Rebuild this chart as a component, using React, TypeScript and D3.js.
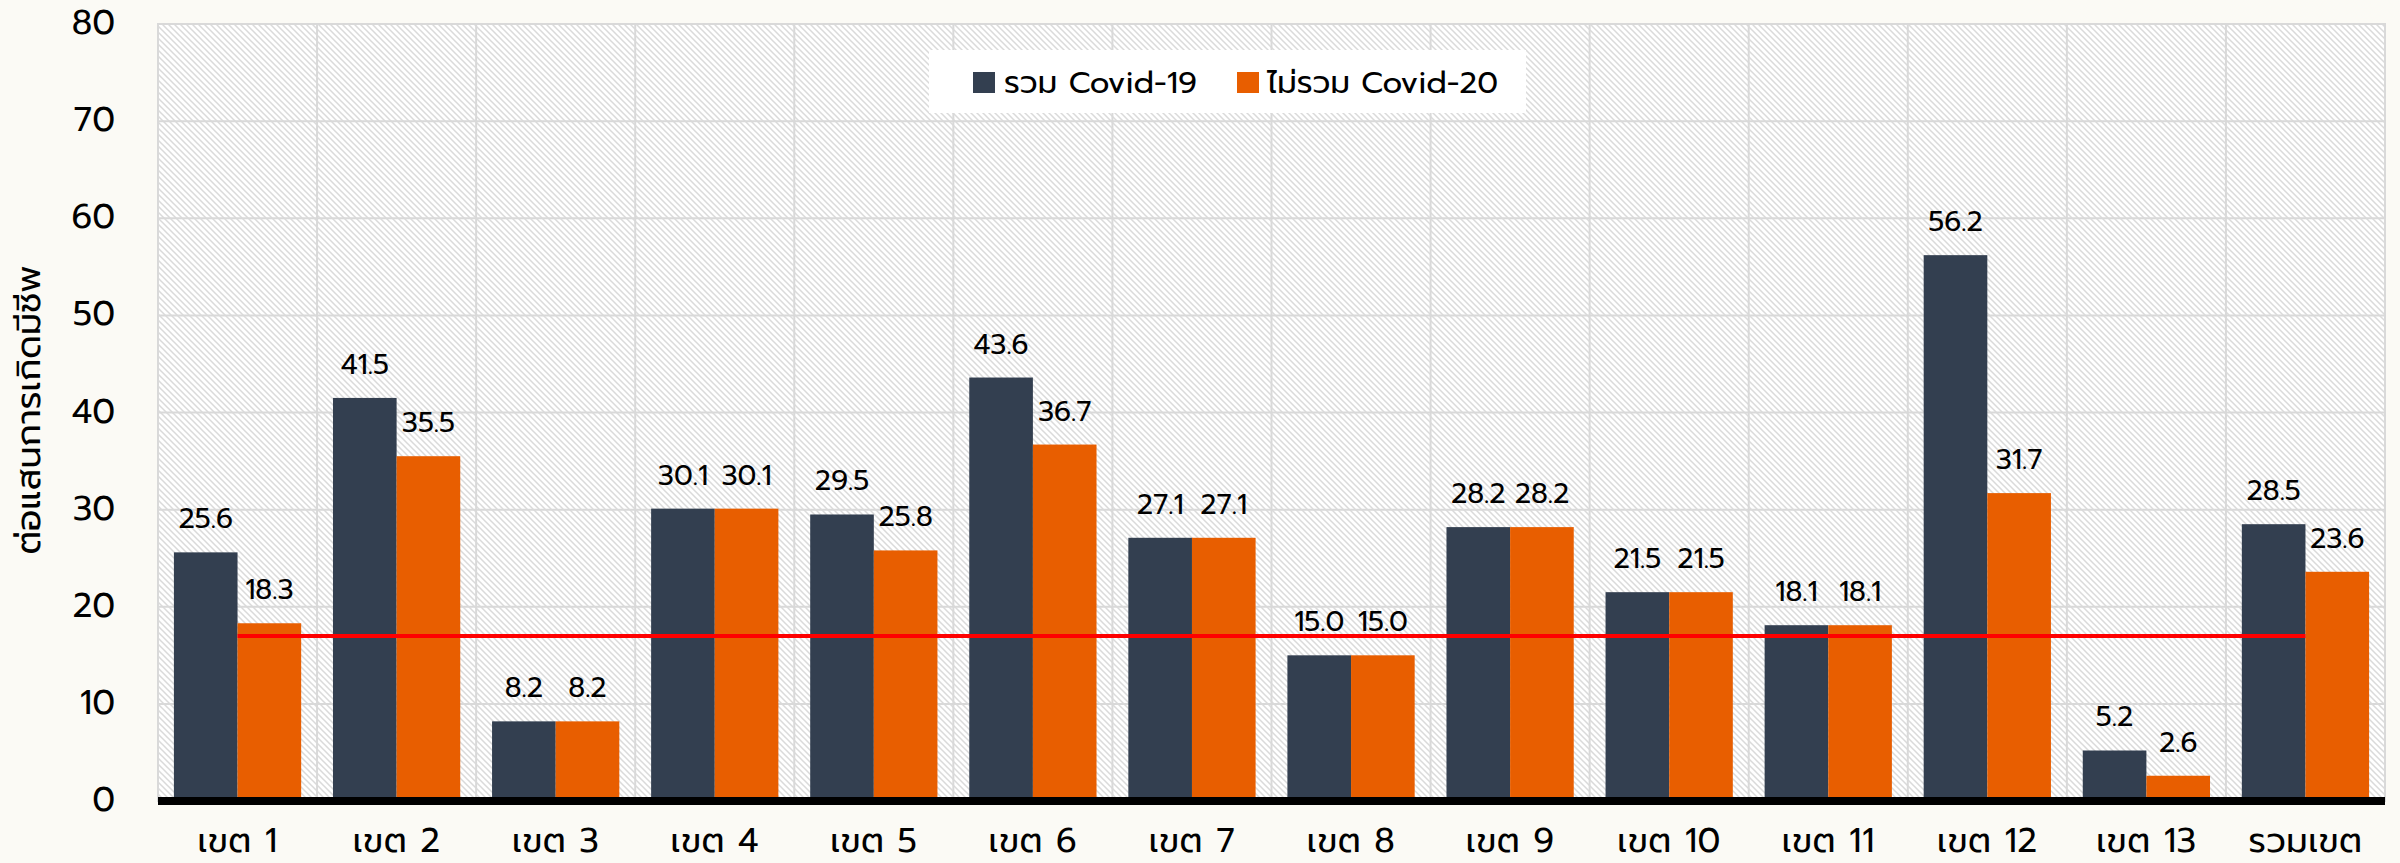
import React from "react";
import * as d3 from "d3";

const categories = ["เขต 1", "เขต 2", "เขต 3", "เขต 4", "เขต 5", "เขต 6", "เขต 7", "เขต 8", "เขต 9", "เขต 10", "เขต 11", "เขต 12", "เขต 13", "รวมเขต"];
const withCovid = [25.6, 41.5, 8.2, 30.1, 29.5, 43.6, 27.1, 15.0, 28.2, 21.5, 18.1, 56.2, 5.2, 28.5];
const withoutCovid = [18.3, 35.5, 8.2, 30.1, 25.8, 36.7, 27.1, 15.0, 28.2, 21.5, 18.1, 31.7, 2.6, 23.6];
const seriesNames = ["รวม Covid-19", "ไม่รวม Covid-20"];
const yTicks = [0, 10, 20, 30, 40, 50, 60, 70, 80];
const targetValue = 17;
const yTitle = "ต่อแสนการเกิดมีชีพ";

const W = 2400, H = 863;
const left = 158, right = 2385, top = 24, bottom = 801;
const DARK = "#333F50", ORANGE = "#E85E00", GRID = "#D9D9D9";
const FONT = "Prompt, Kanit, 'Noto Sans Thai', Lato, 'Noto Sans', sans-serif";

export default function App() {
  const x = d3.scaleBand<string>().domain(categories).range([left, right]).paddingInner(0).paddingOuter(0);
  const bw = x.bandwidth();
  const inner = d3.scaleBand<number>().domain([0, 1]).range([bw * 0.1, bw * 0.9]);
  const y = d3.scaleLinear().domain([0, 80]).range([bottom, top]);
  const series = [withCovid, withoutCovid];
  const colors = [DARK, ORANGE];
  const fmt = d3.format(".1f");
  const firstC = x(categories[0])! + bw / 2;
  const lastC = x(categories[categories.length - 1])! + bw / 2;

  return (
    <svg width={W} height={H} style={{ display: "block", position: "absolute", left: 0, top: 0 }} fontFamily={FONT}>
      <defs>
        <pattern id="hatch" patternUnits="userSpaceOnUse" width="6" height="6">
          <rect width="6" height="6" fill="#ffffff" />
          <path d="M-1,-1 L7,7 M-4,2 L1,7 M2,-4 L7,1" stroke="#DADADA" strokeWidth="1.5" />
        </pattern>
      </defs>
      <rect x={0} y={0} width={W} height={H} fill="#FBFAF5" />
      <rect x={left} y={top} width={right - left} height={bottom - top} fill="url(#hatch)" stroke={GRID} strokeWidth={2} />
      {yTicks.map((t) => (
        <g key={t}>
          {t > 0 && <line x1={left} x2={right} y1={y(t)} y2={y(t)} stroke={GRID} strokeWidth={2} />}
          <text x={115} y={y(t) + 10} textAnchor="end" fontSize={34} fill="#000">{t}</text>
        </g>
      ))}
      {categories.slice(1).map((c) => (
        <line key={c} x1={x(c)!} x2={x(c)!} y1={top} y2={bottom} stroke={GRID} strokeWidth={2} />
      ))}
      <g>
        <rect x={929} y={50} width={597} height={63} fill="#ffffff" />
        <rect x={973} y={72} width={22} height={21} fill={DARK} />
        <text x={1004} y={93} fontSize={31} fill="#000">{seriesNames[0]}</text>
        <rect x={1237} y={72} width={22} height={21} fill={ORANGE} />
        <text x={1267} y={93} fontSize={31} fill="#000">{seriesNames[1]}</text>
      </g>
      {categories.map((c, i) => (
        <g key={c}>
          {series.map((s, k) => {
            const bx = x(c)! + inner(k)!;
            return (
              <g key={k}>
                <rect x={bx} y={y(s[i])} width={inner.bandwidth()} height={y(0) - y(s[i])} fill={colors[k]} />
                <text x={bx + inner.bandwidth() / 2} y={y(s[i]) - 24} textAnchor="middle" fontSize={28} fill="#000">{fmt(s[i])}</text>
              </g>
            );
          })}
          <text x={x(c)! + bw / 2} y={852} textAnchor="middle" fontSize={34} letterSpacing={0.5} fill="#000">{c}</text>
        </g>
      ))}
      <line x1={firstC} x2={lastC} y1={y(targetValue)} y2={y(targetValue)} stroke="#FF0000" strokeWidth={4} />
      <line x1={left} x2={right} y1={y(0)} y2={y(0)} stroke="#000" strokeWidth={8} />
      <text transform={`translate(31,410) rotate(-90)`} textAnchor="middle" dominantBaseline="middle" fontSize={35} fill="#000">{yTitle}</text>
    </svg>
  );
}
